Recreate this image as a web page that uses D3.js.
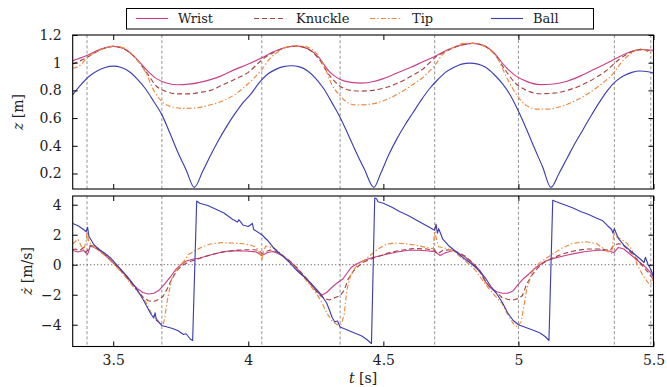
<!DOCTYPE html>
<html><head><meta charset="utf-8">
<script src="https://cdn.jsdelivr.net/npm/d3@7/dist/d3.min.js"></script>
<style>html,body{margin:0;padding:0;background:#fff;}svg{display:block;font-family:"DejaVu Serif",serif;}</style>
</head><body><svg id="c" width="667" height="387"></svg>
<script>
// ---------- data ----------
const seriesNames = ["Wrist", "Knuckle", "Tip", "Ball"];
const xTicks = [3.5, 4, 4.5, 5, 5.5];
const xTickLabels = ["3.5", "4", "4.5", "5", "5.5"];
const zTicks = [0.2, 0.4, 0.6, 0.8, 1.0, 1.2];
const zTickLabels = ["0.2", "0.4", "0.6", "0.8", "1", "1.2"];
const vTicks = [-4, -2, 0, 2, 4];
const vTickLabels = ["\u22124", "\u22122", "0", "2", "4"];
const eventTimes = [3.403, 3.68, 4.05, 4.34, 4.69, 5.0, 5.355, 5.49];

const wristZ = [[3.35,1.015],[3.40,1.05],[3.45,1.095],[3.50,1.118],[3.54,1.10],[3.58,1.04],[3.62,0.955],[3.66,0.885],[3.70,0.852],[3.74,0.841],[3.78,0.845],[3.82,0.858],[3.86,0.878],[3.90,0.905],[3.95,0.95],[4.00,0.99],[4.05,1.035],[4.10,1.085],[4.15,1.115],[4.18,1.12],[4.22,1.10],[4.26,1.04],[4.30,0.935],[4.34,0.878],[4.38,0.858],[4.42,0.853],[4.46,0.862],[4.50,0.885],[4.55,0.925],[4.60,0.965],[4.65,1.01],[4.69,1.045],[4.74,1.095],[4.79,1.128],[4.83,1.14],[4.87,1.125],[4.91,1.07],[4.95,0.975],[4.99,0.905],[5.03,0.865],[5.08,0.842],[5.13,0.846],[5.18,0.866],[5.23,0.905],[5.28,0.952],[5.33,1.00],[5.37,1.04],[5.41,1.075],[5.45,1.095],[5.50,1.09]];
const knuckleZ = [[3.35,0.99],[3.40,1.035],[3.45,1.09],[3.50,1.118],[3.54,1.10],[3.58,1.04],[3.62,0.94],[3.66,0.83],[3.70,0.79],[3.74,0.775],[3.78,0.775],[3.82,0.785],[3.86,0.80],[3.90,0.835],[3.95,0.88],[4.00,0.93],[4.05,1.02],[4.10,1.08],[4.15,1.115],[4.18,1.12],[4.22,1.10],[4.26,1.03],[4.30,0.91],[4.34,0.83],[4.38,0.80],[4.42,0.795],[4.46,0.80],[4.50,0.815],[4.55,0.85],[4.60,0.90],[4.65,0.96],[4.69,1.035],[4.74,1.09],[4.79,1.128],[4.83,1.14],[4.87,1.125],[4.91,1.065],[4.95,0.95],[4.99,0.85],[5.03,0.80],[5.08,0.776],[5.13,0.78],[5.18,0.80],[5.23,0.835],[5.28,0.885],[5.33,0.95],[5.37,1.02],[5.41,1.07],[5.45,1.093],[5.50,1.085]];
const tipZ = [[3.35,0.96],[3.38,0.985],[3.40,1.03],[3.45,1.09],[3.50,1.12],[3.54,1.105],[3.58,1.04],[3.62,0.93],[3.65,0.80],[3.68,0.72],[3.72,0.68],[3.76,0.67],[3.80,0.672],[3.85,0.69],[3.90,0.72],[3.95,0.77],[4.00,0.85],[4.05,0.95],[4.08,1.03],[4.12,1.09],[4.16,1.12],[4.20,1.12],[4.24,1.09],[4.28,0.98],[4.31,0.84],[4.34,0.76],[4.37,0.71],[4.40,0.695],[4.45,0.70],[4.50,0.725],[4.55,0.77],[4.60,0.83],[4.65,0.90],[4.69,0.98],[4.72,1.06],[4.76,1.11],[4.80,1.14],[4.84,1.14],[4.88,1.11],[4.92,1.04],[4.96,0.88],[5.00,0.75],[5.03,0.69],[5.07,0.665],[5.11,0.665],[5.16,0.685],[5.21,0.725],[5.26,0.78],[5.31,0.85],[5.35,0.92],[5.38,1.00],[5.42,1.07],[5.45,1.10],[5.48,1.08],[5.50,1.06]];
const ballZ = [[3.35,0.77],[3.38,0.84],[3.41,0.90],[3.44,0.94],[3.47,0.965],[3.50,0.975],[3.53,0.965],[3.56,0.935],[3.59,0.88],[3.62,0.81],[3.65,0.72],[3.68,0.625],[3.71,0.49],[3.74,0.35],[3.77,0.225],[3.80,0.10],[3.83,0.21],[3.86,0.33],[3.89,0.44],[3.92,0.54],[3.95,0.63],[3.98,0.71],[4.01,0.775],[4.04,0.855],[4.07,0.915],[4.10,0.95],[4.13,0.972],[4.16,0.978],[4.19,0.97],[4.22,0.94],[4.25,0.885],[4.28,0.81],[4.31,0.71],[4.34,0.605],[4.37,0.48],[4.40,0.35],[4.43,0.23],[4.465,0.10],[4.49,0.2],[4.52,0.335],[4.55,0.45],[4.58,0.55],[4.61,0.64],[4.64,0.73],[4.67,0.81],[4.70,0.875],[4.73,0.93],[4.76,0.965],[4.79,0.99],[4.82,0.997],[4.85,0.99],[4.88,0.965],[4.91,0.915],[4.94,0.85],[4.97,0.765],[5.00,0.65],[5.03,0.52],[5.06,0.38],[5.09,0.245],[5.12,0.10],[5.15,0.20],[5.18,0.31],[5.21,0.42],[5.24,0.52],[5.27,0.62],[5.30,0.715],[5.33,0.80],[5.36,0.865],[5.39,0.905],[5.42,0.93],[5.45,0.94],[5.48,0.935],[5.50,0.925]];

const wristV = [[3.35,0.95],[3.36,0.9],[3.37,0.85],[3.38,0.9],[3.39,0.95],[3.40,0.75],[3.405,0.7],[3.415,1.25],[3.43,1.15],[3.45,0.95],[3.47,0.65],[3.49,0.3],[3.51,-0.05],[3.53,-0.4],[3.55,-0.8],[3.57,-1.25],[3.59,-1.6],[3.61,-1.85],[3.63,-1.95],[3.65,-1.9],[3.67,-1.7],[3.69,-1.3],[3.71,-0.85],[3.73,-0.35],[3.75,0.0],[3.77,0.25],[3.79,0.35],[3.82,0.45],[3.85,0.6],[3.88,0.75],[3.91,0.88],[3.94,0.92],[3.97,0.93],[4.00,0.9],[4.03,0.85],[4.05,0.62],[4.07,0.8],[4.09,0.88],[4.11,0.75],[4.13,0.55],[4.15,0.3],[4.17,-0.05],[4.19,-0.45],[4.21,-0.85],[4.23,-1.3],[4.25,-1.7],[4.27,-2.05],[4.29,-1.85],[4.31,-1.5],[4.33,-1.2],[4.35,-0.95],[4.36,-0.7],[4.38,-0.2],[4.40,0.05],[4.43,0.3],[4.46,0.48],[4.50,0.65],[4.55,0.85],[4.60,0.98],[4.65,0.95],[4.69,0.87],[4.71,0.62],[4.73,0.8],[4.76,0.95],[4.78,0.75],[4.80,0.55],[4.82,0.25],[4.84,-0.05],[4.86,-0.45],[4.88,-1.2],[4.90,-1.6],[4.92,-1.8],[4.94,-1.9],[4.96,-1.9],[4.98,-1.75],[5.00,-1.3],[5.02,-0.9],[5.04,-0.6],[5.06,-0.25],[5.08,0.0],[5.10,0.25],[5.13,0.42],[5.17,0.6],[5.21,0.76],[5.25,0.88],[5.30,0.98],[5.34,0.9],[5.353,0.8],[5.37,1.15],[5.39,1.05],[5.41,0.75],[5.43,0.45],[5.45,0.15],[5.47,-0.15],[5.49,-0.55],[5.50,-0.8]];
const knuckleV = [[3.35,1.0],[3.36,1.05],[3.37,0.95],[3.38,1.0],[3.39,1.15],[3.40,0.85],[3.405,0.95],[3.415,1.3],[3.43,1.2],[3.45,0.95],[3.47,0.65],[3.49,0.3],[3.51,-0.05],[3.53,-0.45],[3.55,-0.85],[3.57,-1.3],[3.59,-1.75],[3.61,-2.15],[3.63,-2.4],[3.65,-2.45],[3.67,-2.3],[3.685,-2.1],[3.70,-1.6],[3.71,-1.2],[3.725,-0.7],[3.74,-0.3],[3.76,0.0],[3.78,0.2],[3.81,0.35],[3.84,0.55],[3.87,0.7],[3.90,0.82],[3.93,0.9],[3.96,0.97],[3.99,1.0],[4.02,1.0],[4.04,0.95],[4.05,0.75],[4.06,0.82],[4.08,0.98],[4.10,0.9],[4.12,0.7],[4.14,0.45],[4.16,0.15],[4.18,-0.2],[4.20,-0.6],[4.22,-1.0],[4.24,-1.5],[4.26,-1.95],[4.28,-2.25],[4.30,-2.35],[4.32,-2.2],[4.34,-2.05],[4.355,-1.7],[4.37,-0.95],[4.39,-0.4],[4.41,-0.05],[4.43,0.2],[4.46,0.42],[4.49,0.6],[4.52,0.8],[4.56,0.95],[4.61,1.08],[4.66,1.05],[4.69,0.97],[4.70,0.72],[4.72,0.95],[4.75,1.0],[4.78,0.8],[4.80,0.6],[4.82,0.3],[4.84,-0.05],[4.86,-0.55],[4.88,-1.2],[4.90,-1.6],[4.92,-1.85],[4.94,-2.2],[4.96,-2.3],[4.98,-2.35],[5.00,-2.25],[5.015,-2.05],[5.03,-1.3],[5.05,-0.7],[5.07,-0.25],[5.09,0.1],[5.12,0.4],[5.16,0.7],[5.20,0.9],[5.25,1.05],[5.30,1.05],[5.34,0.95],[5.353,1.3],[5.37,1.4],[5.385,1.35],[5.40,1.1],[5.42,0.75],[5.44,0.35],[5.46,-0.1],[5.48,-0.5],[5.50,-1.0]];
const tipV = [[3.35,1.4],[3.36,1.55],[3.37,1.7],[3.38,1.3],[3.39,0.95],[3.40,1.6],[3.403,2.2],[3.41,1.5],[3.42,1.35],[3.44,1.0],[3.46,0.75],[3.48,0.45],[3.50,0.1],[3.52,-0.3],[3.54,-0.7],[3.56,-1.15],[3.58,-1.6],[3.60,-2.0],[3.62,-2.45],[3.64,-3.2],[3.66,-3.6],[3.675,-3.9],[3.685,-4.0],[3.69,-3.6],[3.70,-2.4],[3.71,-1.5],[3.72,-0.7],[3.74,-0.2],[3.76,0.2],[3.78,0.7],[3.80,0.9],[3.83,1.2],[3.86,1.38],[3.90,1.47],[3.94,1.45],[3.98,1.4],[4.01,1.3],[4.03,1.15],[4.045,0.7],[4.05,0.3],[4.055,0.9],[4.065,1.25],[4.09,1.15],[4.11,0.9],[4.13,0.6],[4.15,0.25],[4.17,-0.15],[4.19,-0.55],[4.21,-0.95],[4.23,-1.4],[4.25,-1.85],[4.27,-2.45],[4.29,-3.2],[4.31,-3.75],[4.33,-4.0],[4.345,-3.95],[4.355,-3.3],[4.365,-1.7],[4.38,-0.6],[4.40,-0.1],[4.42,0.15],[4.45,0.6],[4.48,1.05],[4.51,1.35],[4.54,1.45],[4.58,1.4],[4.62,1.3],[4.66,1.15],[4.685,1.05],[4.69,2.5],[4.695,1.8],[4.705,1.2],[4.73,1.1],[4.76,0.95],[4.78,0.6],[4.80,0.3],[4.82,0.0],[4.84,-0.35],[4.86,-0.85],[4.88,-1.35],[4.90,-1.8],[4.92,-2.2],[4.94,-2.6],[4.96,-3.3],[4.98,-3.9],[4.995,-4.15],[5.01,-3.8],[5.02,-2.8],[5.03,-1.7],[5.05,-0.5],[5.07,0.0],[5.10,0.4],[5.13,0.75],[5.16,1.1],[5.20,1.42],[5.25,1.53],[5.29,1.4],[5.32,1.0],[5.345,0.75],[5.353,2.1],[5.36,1.9],[5.38,1.7],[5.40,1.45],[5.42,1.0],[5.44,0.0],[5.46,-0.7],[5.48,-1.2],[5.49,-1.3],[5.50,-0.9]];
const ballV = [[3.35,2.75],[3.37,2.6],[3.39,2.35],[3.40,2.2],[3.405,2.5],[3.41,1.9],[3.43,1.3],[3.45,1.0],[3.47,0.75],[3.49,0.45],[3.51,0.05],[3.53,-0.35],[3.55,-0.75],[3.57,-1.2],[3.59,-1.7],[3.61,-2.3],[3.625,-2.8],[3.64,-3.3],[3.65,-3.55],[3.655,-3.2],[3.66,-3.7],[3.67,-3.85],[3.68,-4.05],[3.70,-4.15],[3.72,-4.25],[3.74,-4.4],[3.76,-4.65],[3.77,-4.6],[3.785,-4.95],[3.794,-5.05],[3.809,4.25],[3.82,4.1],[3.85,3.95],[3.88,3.7],[3.91,3.45],[3.94,3.05],[3.96,2.85],[3.965,3.0],[3.98,2.65],[4.00,2.55],[4.015,2.75],[4.02,2.35],[4.05,2.0],[4.07,1.65],[4.09,1.2],[4.11,0.85],[4.13,0.55],[4.15,0.2],[4.17,-0.2],[4.19,-0.55],[4.21,-0.85],[4.23,-1.2],[4.25,-1.6],[4.27,-2.0],[4.29,-2.55],[4.30,-3.0],[4.31,-3.5],[4.32,-3.8],[4.33,-3.75],[4.34,-4.15],[4.36,-4.3],[4.38,-4.45],[4.40,-4.6],[4.42,-4.75],[4.44,-5.0],[4.456,-5.25],[4.468,4.45],[4.475,4.4],[4.48,4.2],[4.50,4.1],[4.53,3.85],[4.56,3.55],[4.59,3.3],[4.62,3.0],[4.65,2.7],[4.68,2.4],[4.69,2.3],[4.695,2.7],[4.70,2.1],[4.705,2.4],[4.72,1.7],[4.74,1.3],[4.76,1.0],[4.78,0.7],[4.80,0.4],[4.82,0.15],[4.84,-0.15],[4.86,-0.5],[4.88,-0.95],[4.90,-1.5],[4.92,-1.95],[4.94,-2.5],[4.96,-3.2],[4.98,-3.7],[5.00,-4.0],[5.03,-4.2],[5.06,-4.4],[5.08,-4.55],[5.10,-4.8],[5.113,-5.05],[5.127,4.3],[5.14,4.2],[5.17,4.0],[5.20,3.8],[5.23,3.55],[5.26,3.35],[5.29,3.1],[5.31,2.95],[5.33,2.6],[5.345,2.35],[5.35,2.1],[5.355,2.4],[5.37,1.75],[5.39,1.3],[5.41,1.0],[5.43,0.7],[5.45,0.4],[5.465,0.15],[5.47,0.5],[5.48,0.0],[5.49,-0.3],[5.50,-0.8]];

// ---------- styles ----------
const colors = {Wrist:"#c8408a", Knuckle:"#a3443f", Tip:"#f0883c", Ball:"#3f3fb4"};
const dashes = {Wrist:null, Knuckle:"5,3", Tip:"5,2.2,1.4,2.2", Ball:null};

const svg = d3.select("#c");
const L = 72.7, R = 653.5;
const topP = {y0:35, y1:189}, botP = {y0:196, y1:346.5};
const x = d3.scaleLinear().domain([3.35, 5.5]).range([L, R]);
const yz = d3.scaleLinear().domain([0.088, 1.2]).range([topP.y1, topP.y0]);
const yv = d3.scaleLinear().domain([-5.45, 4.58]).range([botP.y1, botP.y0]);

svg.append("rect").attr("width",667).attr("height",387).attr("fill","#fff");
const defs = svg.append("defs");
defs.append("clipPath").attr("id","cpT").append("rect").attr("x",L).attr("y",topP.y0).attr("width",R-L).attr("height",topP.y1-topP.y0);
defs.append("clipPath").attr("id","cpB").append("rect").attr("x",L).attr("y",botP.y0).attr("width",R-L).attr("height",botP.y1-botP.y0);

function panel(p, y, clip, sets, curve, yt, ytl, zeroLine, showX) {
  const g = svg.append("g");
  // vertical event lines
  g.selectAll(".ev").data(eventTimes).join("line")
    .attr("x1", d=>x(d)).attr("x2", d=>x(d)).attr("y1", p.y0).attr("y2", p.y1)
    .attr("stroke","#888").attr("stroke-width",0.9).attr("stroke-dasharray","3,2.2");
  if (zeroLine) {
    g.append("line").attr("x1",L).attr("x2",R).attr("y1",y(0)).attr("y2",y(0))
      .attr("stroke","#555").attr("stroke-width",1).attr("stroke-dasharray","1.1,2.4");
  }
  const gl = g.append("g").attr("clip-path",`url(#${clip})`);
  const line = d3.line().x(d=>x(d[0])).y(d=>y(d[1])).curve(curve);
  sets.forEach(([name, data]) => {
    gl.append("path").datum(data).attr("d", line).attr("fill","none")
      .attr("stroke", colors[name]).attr("stroke-width",1.15)
      .attr("stroke-dasharray", dashes[name]).attr("stroke-linejoin","round");
  });
  // axes
  const tickLen = 5;
  const ax = g.append("g").attr("font-family","DejaVu Serif").attr("font-size",14);
  const left = ax.append("g").attr("transform",`translate(${L},0)`)
    .call(d3.axisLeft(y).tickValues(yt).tickFormat((d,i)=>ytl[i]).tickSizeInner(-tickLen).tickSizeOuter(0).tickPadding(11));
  const right = ax.append("g").attr("transform",`translate(${R},0)`)
    .call(d3.axisRight(y).tickValues(yt).tickFormat("").tickSizeInner(-tickLen).tickSizeOuter(0));
  const top = ax.append("g").attr("transform",`translate(0,${p.y0})`)
    .call(d3.axisTop(x).tickValues(xTicks).tickFormat("").tickSizeInner(-tickLen).tickSizeOuter(0));
  const bot = ax.append("g").attr("transform",`translate(0,${p.y1})`)
    .call(d3.axisBottom(x).tickValues(xTicks).tickFormat((d,i)=>showX? xTickLabels[i] : "").tickSizeInner(-tickLen).tickSizeOuter(0).tickPadding(9));
  ax.selectAll(".domain").remove();
  ax.selectAll(".tick line").attr("stroke","#000").attr("stroke-width",1);
  ax.selectAll("text").attr("fill","#222").attr("font-family","DejaVu Serif").attr("font-size",14);
  // frame
  g.append("rect").attr("x",L).attr("y",p.y0).attr("width",R-L).attr("height",p.y1-p.y0)
    .attr("fill","none").attr("stroke","#000").attr("stroke-width",1.1);
}

panel(topP, yz, "cpT", [["Wrist",wristZ],["Knuckle",knuckleZ],["Tip",tipZ],["Ball",ballZ]], d3.curveMonotoneX, zTicks, zTickLabels, false, false);
panel(botP, yv, "cpB", [["Wrist",wristV],["Knuckle",knuckleV],["Tip",tipV],["Ball",ballV]], d3.curveLinear, vTicks, vTickLabels, true, true);

// axis labels
const lab = svg.append("g").attr("font-family","DejaVu Serif").attr("font-size",14).attr("fill","#222");
const t1 = lab.append("text").attr("transform","translate(23,112) rotate(-90)").attr("text-anchor","middle");
t1.append("tspan").attr("font-style","italic").text("z");
t1.append("tspan").text(" [m]");
const t2 = lab.append("text").attr("transform","translate(32,271) rotate(-90)").attr("text-anchor","middle");
t2.append("tspan").attr("font-style","italic").text("\u017C");
t2.append("tspan").text(" [m/s]");
const t3 = lab.append("text").attr("x",(L+R)/2).attr("y",383).attr("text-anchor","middle");
t3.append("tspan").attr("font-style","italic").text("t");
t3.append("tspan").text(" [s]");

// legend
const leg = svg.append("g");
leg.append("rect").attr("x",126.5).attr("y",8.5).attr("width",467).attr("height",20.5)
  .attr("fill","#fff").attr("stroke","#000").attr("stroke-width",1);
const legX = [136, 254, 370, 491];
const items = leg.selectAll(".li").data(seriesNames).join("g")
  .attr("transform",(d,i)=>`translate(${legX[i]},0)`);
items.append("line").attr("x1",0).attr("x2",32).attr("y1",18.5).attr("y2",18.5)
  .attr("stroke",d=>colors[d]).attr("stroke-width",1.15).attr("stroke-dasharray",d=>dashes[d]);
items.append("text").attr("x",42).attr("y",23.3).attr("font-family","DejaVu Serif").attr("font-size",13)
  .attr("fill","#222").text(d=>d);
</script></body></html>
